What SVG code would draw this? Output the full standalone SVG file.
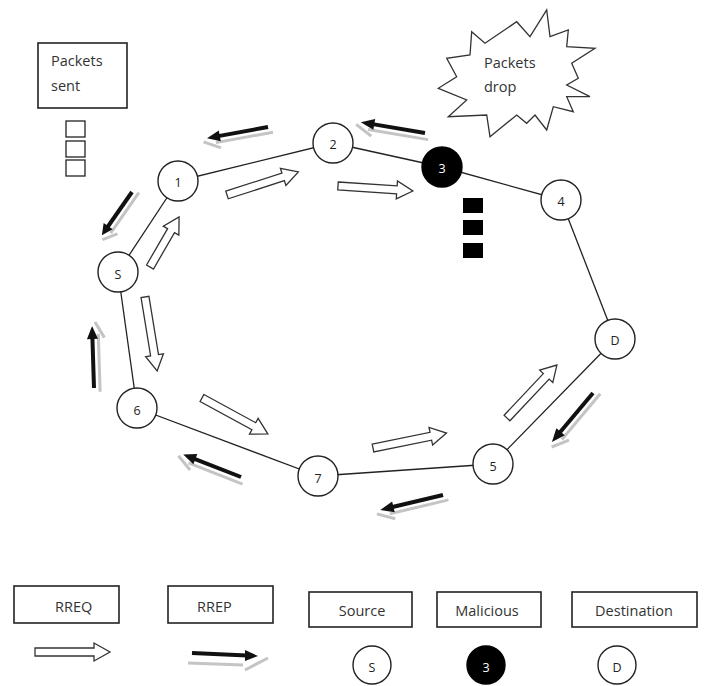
<svg xmlns="http://www.w3.org/2000/svg" xmlns:xlink="http://www.w3.org/1999/xlink" width="708" height="686" viewBox="0 0 708 686">
<style>
.bg{fill:#ffffff}
.edge{stroke:#222;stroke-width:1.3;fill:none}
.node circle{fill:#fff;stroke:#222;stroke-width:1.4}
.node.mal circle{fill:#000;stroke:#000}
.lbl{font-family:"Open Sans","Liberation Sans",sans-serif;font-size:12.5px;fill:#222;text-anchor:middle;dominant-baseline:central}
.mal .lbl{fill:#fff}
.box{fill:#fff;stroke:#222;stroke-width:1.6}
.txt{font-family:"Open Sans","Liberation Sans",sans-serif;font-size:14.5px;fill:#333}
.mid{text-anchor:middle}
.rreq{fill:#fff;stroke:#333;stroke-width:1.3;stroke-linejoin:miter}
.rrep-s{stroke:#c4c4c4;stroke-width:3;fill:none}
.rrep-l{stroke:#111;stroke-width:4;fill:none}
.rrep-h{fill:#111}
.pkt{fill:#fff;stroke:#222;stroke-width:1.3}
.pktb{fill:#000}
.star{fill:#fff;stroke:#333;stroke-width:1.3;stroke-linejoin:miter}
</style>
<defs>
<path id="rreq75" class="rreq" d="M0,-4H59V-9L75,0L59,9V4H0Z"/>
<g id="rrep">
<path class="rrep-s" d="M-4,6H54M50,12L66,3"/>
<path class="rrep-l" d="M0,0H52"/>
<polygon class="rrep-h" points="49,-5.5 62,0 49,5.5"/>
</g>
</defs>
<rect class="bg" width="708" height="686"/>

<g id="connectors">
<line class="edge" x1="178" y1="181" x2="333" y2="143"/>
<line class="edge" x1="333" y1="143" x2="442" y2="167"/>
<line class="edge" x1="442" y1="167" x2="561" y2="200"/>
<line class="edge" x1="561" y1="200" x2="615" y2="339"/>
<line class="edge" x1="615" y1="339" x2="493" y2="464"/>
<line class="edge" x1="493" y1="464" x2="318" y2="476"/>
<line class="edge" x1="318" y1="476" x2="137" y2="408"/>
<line class="edge" x1="137" y1="408" x2="118" y2="272"/>
<line class="edge" x1="118" y1="272" x2="178" y2="181"/>
</g>

<g id="rreq-arrows">
<use xlink:href="#rreq75" transform="translate(227,195) rotate(-17.9)"/>
<use xlink:href="#rreq75" transform="translate(338,186) rotate(3.8)"/>
<path class="rreq" d="M0,-4H42V-9L58,0L42,9V4H0Z" transform="translate(150,267) rotate(-59.9)"/>
<use xlink:href="#rreq75" transform="translate(145,297) rotate(80.7)"/>
<use xlink:href="#rreq75" transform="translate(202,398) rotate(28.6)"/>
<use xlink:href="#rreq75" transform="translate(373,448) rotate(-11.5)"/>
<use xlink:href="#rreq75" transform="translate(507,418) rotate(-46.7) scale(0.97,1)"/>
</g>

<g id="rrep-arrows">
<use xlink:href="#rrep" transform="translate(268,127) rotate(169.6) scale(1,-1)"/>
<use xlink:href="#rrep" transform="translate(425,133) rotate(189.6) scale(1.05,-1)"/>
<use xlink:href="#rrep" transform="translate(132,192) rotate(124.9) scale(0.85,-1)"/>
<use xlink:href="#rrep" transform="translate(94,388) rotate(-91.8)"/>
<use xlink:href="#rrep" transform="translate(241,477) rotate(201.3) scale(1,-1)"/>
<use xlink:href="#rrep" transform="translate(443,495) rotate(166.6) scale(1.04,-1)"/>
<use xlink:href="#rrep" transform="translate(593,393) rotate(130) scale(1.03,-1)"/>
</g>

<g id="node-1" class="node"><circle cx="178" cy="181" r="20"/><text class="lbl" x="178" y="182">1</text></g>
<g id="node-2" class="node"><circle cx="333" cy="143" r="20"/><text class="lbl" x="333" y="144">2</text></g>
<g id="node-3" class="node mal"><circle cx="442" cy="167" r="20"/><text class="lbl" x="442" y="168">3</text></g>
<g id="node-4" class="node"><circle cx="561" cy="200" r="20"/><text class="lbl" x="561" y="201">4</text></g>
<g id="node-D" class="node"><circle cx="615" cy="339" r="20"/><text class="lbl" x="615" y="340">D</text></g>
<g id="node-5" class="node"><circle cx="493" cy="464" r="20"/><text class="lbl" x="493" y="466">5</text></g>
<g id="node-7" class="node"><circle cx="318" cy="476" r="20"/><text class="lbl" x="318" y="478">7</text></g>
<g id="node-6" class="node"><circle cx="137" cy="408" r="20"/><text class="lbl" x="137" y="410">6</text></g>
<g id="node-S" class="node"><circle cx="118" cy="272" r="20"/><text class="lbl" x="118" y="274">S</text></g>

<g id="packets-sent">
<rect class="box" x="38" y="43" width="89" height="65"/>
<text class="txt" x="51" y="66">Packets</text>
<text class="txt" x="51" y="91">sent</text>
<rect class="pkt" x="66" y="121" width="19" height="16"/>
<rect class="pkt" x="66" y="141" width="19" height="16"/>
<rect class="pkt" x="66" y="160" width="19" height="16"/>
</g>

<g id="dropped-packets">
<rect class="pktb" x="463" y="198" width="20" height="15"/>
<rect class="pktb" x="463" y="220" width="20" height="15"/>
<rect class="pktb" x="463" y="243" width="20" height="15"/>
</g>

<g id="packets-drop">
<polygon class="star" points="471.7,31.7 485,43.3 516.7,21.7 530,36.7 546.7,10 550,36.7 568.3,30 566.7,46.7 595,48.3 571.7,63.3 578.3,78.3 566.7,85 590,96.7 566.7,96.7 573.3,111.7 553.3,106.7 546.7,130 535,115 526.7,123.3 516.7,115 490,136.7 486.7,115 448.3,116.7 466.7,100 438.3,88.3 456.7,76.7 446.7,58.3 470,55"/>
<text class="txt" x="484" y="68">Packets</text>
<text class="txt" x="484" y="92">drop</text>
</g>

<g id="legend">
<g id="legend-rreq">
<rect class="box" x="14" y="586" width="105" height="37"/>
<text class="txt" x="55" y="612">RREQ</text>
<use xlink:href="#rreq75" transform="translate(35,652)"/>
</g>
<g id="legend-rrep">
<rect class="box" x="168" y="586" width="105" height="37"/>
<text class="txt" x="197" y="612">RREP</text>
<path class="rrep-s" d="M188,663L243,665M245,670L268,658"/>
<path class="rrep-l" d="M192,653L247,655.6"/>
<polygon class="rrep-h" points="245,650 258,656 245,661"/>
</g>
<g id="legend-source">
<rect class="box" x="309" y="592" width="103" height="35"/>
<text class="txt mid" x="362" y="616">Source</text>
<g class="node"><circle cx="372" cy="665" r="19"/><text class="lbl" x="372" y="667">S</text></g>
</g>
<g id="legend-malicious">
<rect class="box" x="437" y="592" width="104" height="35"/>
<text class="txt mid" x="487" y="616">Malicious</text>
<g class="node mal"><circle cx="486" cy="665" r="19"/><text class="lbl" x="486" y="667">3</text></g>
</g>
<g id="legend-destination">
<rect class="box" x="572" y="592" width="125" height="35"/>
<text class="txt mid" x="634" y="616">Destination</text>
<g class="node"><circle cx="617" cy="665" r="19"/><text class="lbl" x="617" y="667">D</text></g>
</g>
</g>
</svg>
